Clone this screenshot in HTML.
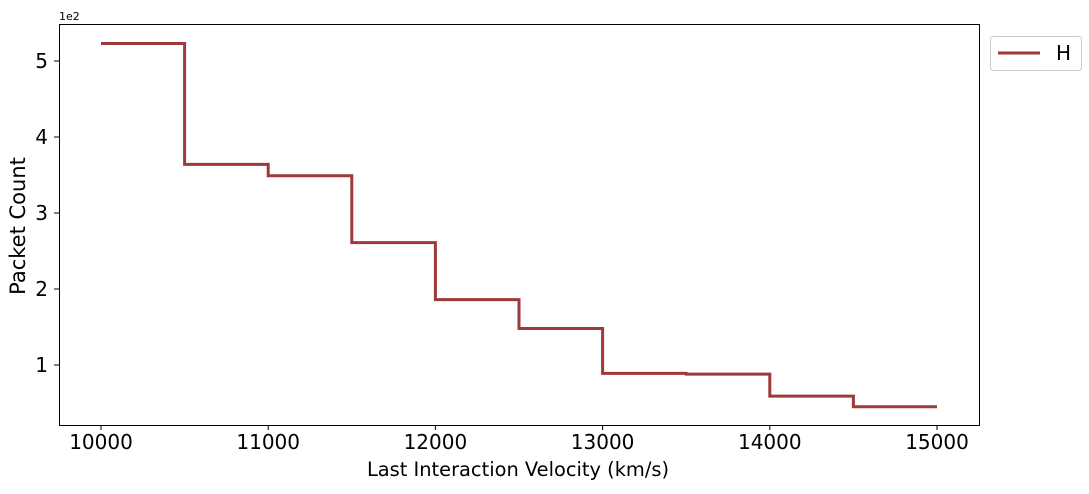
<!DOCTYPE html>
<html><head><meta charset="utf-8"><style>
body{margin:0;background:#fff;}
svg{font-family:"DejaVu Sans","Liberation Sans",sans-serif;}
</style></head><body>
<svg id="chart" width="1089" height="489" xmlns="http://www.w3.org/2000/svg">
<rect x="0" y="0" width="1089" height="489" fill="#fff"/>
<g id="plot"></g>
<rect x="59.5" y="24.5" width="920" height="401" fill="none" stroke="#000" stroke-width="1"/>
<text x="59" y="20" font-size="11">1e2</text>
<text x="518" y="476" font-size="19.4" text-anchor="middle">Last Interaction Velocity (km/s)</text>
<text x="25" y="226" font-size="21" text-anchor="middle" transform="rotate(-90 25 226)">Packet Count</text>
<g>
<rect x="990.5" y="36.5" width="91" height="34" rx="3" fill="#fff" stroke="#ccc"/>
<line x1="998" y1="53" x2="1040" y2="53" stroke="#9e3a3a" stroke-width="3"/>
<text x="1056" y="60" font-size="20">H</text>
</g>
</svg>
<script>
const binEdges=[10000,10500,11000,11500,12000,12500,13000,13500,14000,14500,15000];
const counts=[523,364,349,261,186,148,89,88,59,45];
const xTicks=[10000,11000,12000,13000,14000,15000];
const yTicks=[1,2,3,4,5];
const xs=v=>101+(v-10000)*0.1672;
const ys=v=>441-v*0.76;
const ns="http://www.w3.org/2000/svg";
const g=document.getElementById('plot');
function mk(t,a){const e=document.createElementNS(ns,t);for(const k in a)e.setAttribute(k,a[k]);g.appendChild(e);return e;}
xTicks.forEach(t=>{
 const l=mk('line',{x1:xs(t),x2:xs(t),y1:425,y2:430,stroke:'#000'});
 
 
 const tx=mk('text',{x:xs(t),y:449,'font-size':20,'text-anchor':'middle'});
 tx.textContent=t;
 
 
});
yTicks.forEach(t=>{
 const y=ys(t*100);
 const l=mk('line',{x1:54,x2:59,y1:y,y2:y,stroke:'#000'});
 
 
 const tx=mk('text',{x:48,y:y+7,'font-size':20,'text-anchor':'end'});
 tx.textContent=t;
 
 
});
let d='';
counts.forEach((c,i)=>{
 d+=(i===0?'M':'L')+xs(binEdges[i])+','+ys(c)+' L'+xs(binEdges[i+1])+','+ys(c)+' ';
});
const p=mk('path',{d:d,fill:'none',stroke:'#9e3a3a','stroke-width':3});


</script>
</body></html>
